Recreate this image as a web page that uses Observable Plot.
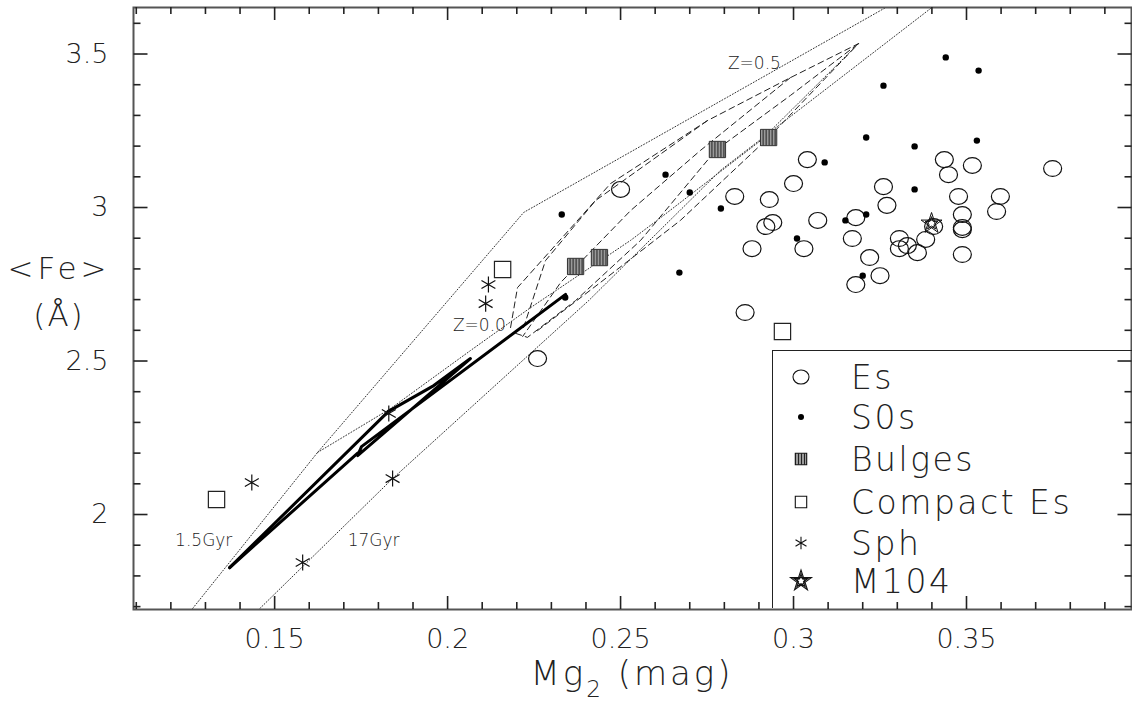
<!DOCTYPE html>
<html><head><meta charset="utf-8">
<script src="https://cdn.jsdelivr.net/npm/d3@7"></script>
<script src="https://cdn.jsdelivr.net/npm/@observablehq/plot@0.6"></script>
<style>
body{margin:0;background:#fff;}
#wrap{position:relative;width:1132px;height:702px;overflow:hidden;font-family:"DejaVu Sans ExtraLight","DejaVu Sans",sans-serif;font-weight:200;color:#222;}
.lab{position:absolute;white-space:nowrap;line-height:1;}
#legend{position:absolute;left:772px;top:350px;width:362px;height:258px;border-left:1.5px solid #222;border-top:1.5px solid #222;box-sizing:border-box;}
.row{position:absolute;left:0;height:40px;display:flex;align-items:center;}
.row svg{width:56px;height:40px;flex:none;}
.row span{font-size:33px;letter-spacing:2.5px;margin-left:22px;}
</style></head><body><div id="wrap"></div>
<script>
// ---- data ----
const esX = [0.226,0.250,0.283,0.293,0.304,0.300,0.292,0.294,0.288,0.303,0.307,0.326,0.327,0.318,0.317,0.322,0.325,0.318,0.286,0.3436,0.3448,0.3517,0.3749,0.3477,0.3598,0.3587,0.3488,0.3488,0.3488,0.3488,0.3306,0.3329,0.3306,0.3358,0.3382,0.3405];
const esY = [2.508,3.059,3.036,3.026,3.156,3.078,2.938,2.951,2.866,2.866,2.958,3.068,3.007,2.967,2.899,2.837,2.778,2.749,2.658,3.156,3.107,3.137,3.127,3.036,3.036,2.987,2.977,2.935,2.928,2.847,2.899,2.876,2.866,2.853,2.896,2.938];
const s0X = [0.233,0.263,0.270,0.279,0.267,0.234,0.309,0.301,0.315,0.321,0.320,0.321,0.326,0.335,0.353,0.335,0.344,0.3535];
const s0Y = [2.977,3.107,3.049,2.997,2.788,2.707,3.147,2.899,2.958,2.977,2.778,3.228,3.397,3.199,3.218,3.059,3.489,3.446];
const bulgeX = [0.237,0.2439,0.278,0.2928];
const bulgeY = [2.808,2.837,3.189,3.228];
const compactX = [0.2159,0.1332,0.2968];
const compactY = [2.798,2.049,2.596];
const sphX = [0.1434,0.1841,0.1581,0.183,0.2118,0.211];
const sphY = [2.104,2.117,1.844,2.329,2.749,2.687];
const m104X = [0.3399];
const m104Y = [2.948];

// model grid (dotted: iso-age, dashed: Z tracks, thick: low-Z track)
const dotted1X = [0.1263,0.1624,0.2220,0.3266], dotted1Y = [1.694,2.202,2.984,3.651];
const dotted2X = [0.1451,0.1841,0.2408,0.2789,0.3396], dotted2Y = [1.687,2.117,2.697,3.121,3.648];
const dotted3X = [0.1624,0.1835,0.2066,0.2240,0.2529,0.2616,0.2905,0.3188], dotted3Y = [2.202,2.345,2.534,2.674,2.893,2.967,3.218,3.534];
const dashed1X = [0.2182,0.2202,0.2471,0.2751,0.2991,0.3188], dashed1Y = [2.609,2.739,3.078,3.283,3.423,3.534];
const dashed2X = [0.2197,0.2231,0.2370,0.2558,0.2775,0.2991,0.3188], dashed2Y = [2.590,2.577,2.697,2.893,3.186,3.365,3.534];
const dashed3X = [0.2260,0.2442,0.2673,0.2928,0.3188], dashed3Y = [2.599,2.756,2.958,3.228,3.534];
const dashed4X = [0.2991,0.2731,0.2529,0.2327,0.2217], dashed4Y = [3.423,3.186,2.990,2.756,2.580];
const dashed5X = [0.2751,0.2428,0.2283,0.2217], dashed5Y = [3.283,3.023,2.827,2.600];
const thickAX = [0.1370,0.1829,0.1960,0.2066,0.1740,0.1751,0.2341], thickAY = [1.827,2.336,2.420,2.508,2.192,2.221,2.717];
const thickBX = [0.1370,0.1740], thickBY = [1.827,2.200];

const labelText = ["Z=0.5","Z=0.0","1.5Gyr","17Gyr"];
const labelX = [0.2887,0.2092,0.1295,0.1786];
const labelY = [3.469,2.616,1.915,1.915];

const xMajor = [0.15,0.2,0.25,0.3,0.35];
const xMinor = [0.11,0.12,0.13,0.14,0.16,0.17,0.18,0.19,0.21,0.22,0.23,0.24,0.26,0.27,0.28,0.29,0.31,0.32,0.33,0.34,0.36,0.37,0.38,0.39];
const yMajor = [2,2.5,3,3.5];
const yMinor = [1.7,1.8,1.9,2.1,2.2,2.3,2.4,2.6,2.7,2.8,2.9,3.1,3.2,3.3,3.4,3.6];
const xDomain = [0.1092,0.3977], yDomain = [1.6906,3.6515];

// ---- layout ----
const W = 1132, H = 702, mL = 133, mR = 1, mT = 7, mB = 93;
const frameH = H - mT - mB;
const pxX = (xDomain[1]-xDomain[0])/(W-mL-mR);   // data units per pixel

// ---- helpers ----
const pts = (X,Y) => X.map((x,i) => ({x, y:Y[i]}));
const series = (id, X, Y) => X.map((x,i) => ({id, x, y:Y[i]}));
const dottedRows = [...series("a",dotted1X,dotted1Y),...series("b",dotted2X,dotted2Y),...series("c",dotted3X,dotted3Y)];
const dashedRows = [...series("a",dashed1X,dashed1Y),...series("b",dashed2X,dashed2Y),...series("c",dashed3X,dashed3Y),...series("d",dashed4X,dashed4Y),...series("e",dashed5X,dashed5Y)];
const thickRows = [...series("a",thickAX,thickAY),...series("b",thickBX,thickBY)];
const labels = labelText.map((t,i) => ({text:t, x:labelX[i], y:labelY[i]}));

// inward y ticks (left/right) as short line segments
const tickRows = [];
let tid = 0;
const seg = (x1,y1,x2,y2) => { tid++; tickRows.push({id:tid, x:x1, y:y1}, {id:tid, x:x2, y:y2}); };
const addY = (vals, len) => vals.forEach(v => {
  seg(xDomain[0], v, xDomain[0]+len*pxX, v);
  seg(xDomain[1], v, xDomain[1]-len*pxX, v);
});
addY(yMinor,7); addY(yMajor,14);

// inward x ticks (bottom/top): full-height rules shortened by pixel insets
const tickStroke = {stroke:"#222", strokeWidth:1.6};
const xTickRules = (vals, len) => [
  Plot.ruleX(vals, {x:d=>d, insetTop: frameH - len, ...tickStroke}),
  Plot.ruleX(vals, {x:d=>d, insetBottom: frameH - len, ...tickStroke})
];

const ellipse = {draw(ctx,size){const rx=Math.sqrt(size/Math.PI), ry=rx*0.88, k=0.5523;
  ctx.moveTo(rx,0); ctx.bezierCurveTo(rx,ry*k,rx*k,ry,0,ry); ctx.bezierCurveTo(-rx*k,ry,-rx,ry*k,-rx,0);
  ctx.bezierCurveTo(-rx,-ry*k,-rx*k,-ry,0,-ry); ctx.bezierCurveTo(rx*k,-ry,rx,-ry*k,rx,0); ctx.closePath();}};
const pentagram = {draw(ctx,size){const R=Math.sqrt(size/Math.PI);
  const v=[...Array(5)].map((_,i)=>{const a=-Math.PI/2+i*2*Math.PI/5;return [R*Math.cos(a),R*Math.sin(a)];});
  ctx.moveTo(...v[0]); [2,4,1,3,0].forEach(i=>ctx.lineTo(...v[i])); ctx.closePath();
  for(const s of [0.62]){for(let i=0;i<10;i++){const a=-Math.PI/2+i*Math.PI/5;const r=(i%2?0.382:1)*R*s;const p=[r*Math.cos(a),r*Math.sin(a)];i?ctx.lineTo(...p):ctx.moveTo(...p);}ctx.closePath();}
}};

const font = '"DejaVu Sans ExtraLight","DejaVu Sans",sans-serif';
const plot = Plot.plot({
  width:W, height:H, marginLeft:mL, marginRight:mR, marginTop:mT, marginBottom:mB,
  x:{domain:xDomain}, y:{domain:yDomain},
  style:{fontFamily:font, fontWeight:200, fontSize:"27px", color:"#222", background:"#fff"},
  marks:[
    Plot.line(dottedRows,{x:"x",y:"y",z:"id",stroke:"#333",strokeWidth:1,strokeDasharray:"1,2",clip:true}),
    Plot.line(dashedRows,{x:"x",y:"y",z:"id",stroke:"#222",strokeWidth:1,strokeDasharray:"6,4",clip:true}),
    Plot.line(thickRows,{x:"x",y:"y",z:"id",stroke:"#000",strokeWidth:3,strokeLinejoin:"round",clip:true}),
    Plot.dot(pts(esX,esY),{x:"x",y:"y",symbol:ellipse,r:9,stroke:"#111",fill:"none",strokeWidth:1.2}),
    Plot.dot(pts(s0X,s0Y),{x:"x",y:"y",r:3.2,fill:"#000",stroke:null}),
    Plot.dot(pts(bulgeX,bulgeY),{x:"x",y:"y",symbol:"square",r:9.2,fill:"url(#hatch)",stroke:"#333",strokeWidth:1}),
    Plot.dot(pts(compactX,compactY),{x:"x",y:"y",symbol:"square",r:9.2,fill:"none",stroke:"#222",strokeWidth:1.2}),
    Plot.dot(pts(sphX,sphY),{x:"x",y:"y",symbol:"asterisk",r:7.6,stroke:"#111",strokeWidth:1.2}),
    Plot.dot(pts(m104X,m104Y),{x:"x",y:"y",symbol:pentagram,r:11,stroke:"#111",fill:"none",strokeWidth:1}),
    Plot.text(labels,{x:"x",y:"y",text:"text",fontSize:17,fill:"#222",textAnchor:"middle"}),
    Plot.frame({stroke:"#555",strokeWidth:2}),
    Plot.line(tickRows,{x:"x",y:"y",z:"id",stroke:"#222",strokeWidth:1.6,strokeLinecap:"butt"}),
    ...xTickRules(xMinor,7), ...xTickRules(xMajor,13),
    Plot.axisX(xMajor,{anchor:"bottom",tickSize:0,tickPadding:19,tickFormat:d=>String(d),label:null,fontSize:27}),
    Plot.axisY(yMajor,{anchor:"left",tickSize:0,tickPadding:25,tickFormat:d=>String(d),label:null,fontSize:27})
  ]
});

// hatch pattern for bulges
const defs = d3.select(plot).insert("defs",":first-child");
const pat = defs.append("pattern").attr("id","hatch").attr("patternUnits","userSpaceOnUse").attr("width",3).attr("height",3);
pat.append("rect").attr("width",3).attr("height",3).attr("fill","#9a9a9a");
pat.append("rect").attr("width",1).attr("height",3).attr("fill","#222");

const wrap = document.getElementById("wrap");
wrap.appendChild(plot);

// axis titles
wrap.insertAdjacentHTML("beforeend",
  `<div class="lab" style="left:133px;width:998px;text-align:center;top:656px;font-size:34px;letter-spacing:3px;">Mg<span style="font-size:23px;position:relative;top:12px;">2</span> (mag)</div>
   <div class="lab" style="left:0;width:118px;text-align:center;top:253px;font-size:31px;letter-spacing:4px;">&lt;Fe&gt;</div>
   <div class="lab" style="left:0;width:118px;text-align:center;top:300px;font-size:31px;letter-spacing:2px;">(Å)</div>`);

// legend
const legendNames = ["Es","S0s","Bulges","Compact Es","Sph","M104"];
const legendSym = [
  {sym:ellipse, size:Math.PI*64, fill:"none"},
  {sym:d3.symbolCircle, size:Math.PI*9, fill:"#000"},
  {sym:d3.symbolSquare, size:130, fill:"url(#hatch)"},
  {sym:d3.symbolSquare, size:130, fill:"none"},
  {sym:d3.symbolAsterisk, size:Math.PI*36, fill:"none"},
  {sym:pentagram, size:Math.PI*121, fill:"none"}
];
const legendRowTop = [6,46,88,131,172,210];
const leg = document.createElement("div"); leg.id = "legend"; wrap.appendChild(leg);
legendNames.forEach((name,i) => {
  const s = legendSym[i];
  const path = d3.symbol(s.sym, s.size)();
  const row = document.createElement("div"); row.className = "row"; row.style.top = legendRowTop[i]+"px";
  row.innerHTML = `<svg viewBox="-28 -20 56 40"><path d="${path}" fill="${s.fill}" stroke="${i===1?"none":"#111"}" stroke-width="1.1"/></svg><span>${name}</span>`;
  leg.appendChild(row);
});
</script></body></html>
